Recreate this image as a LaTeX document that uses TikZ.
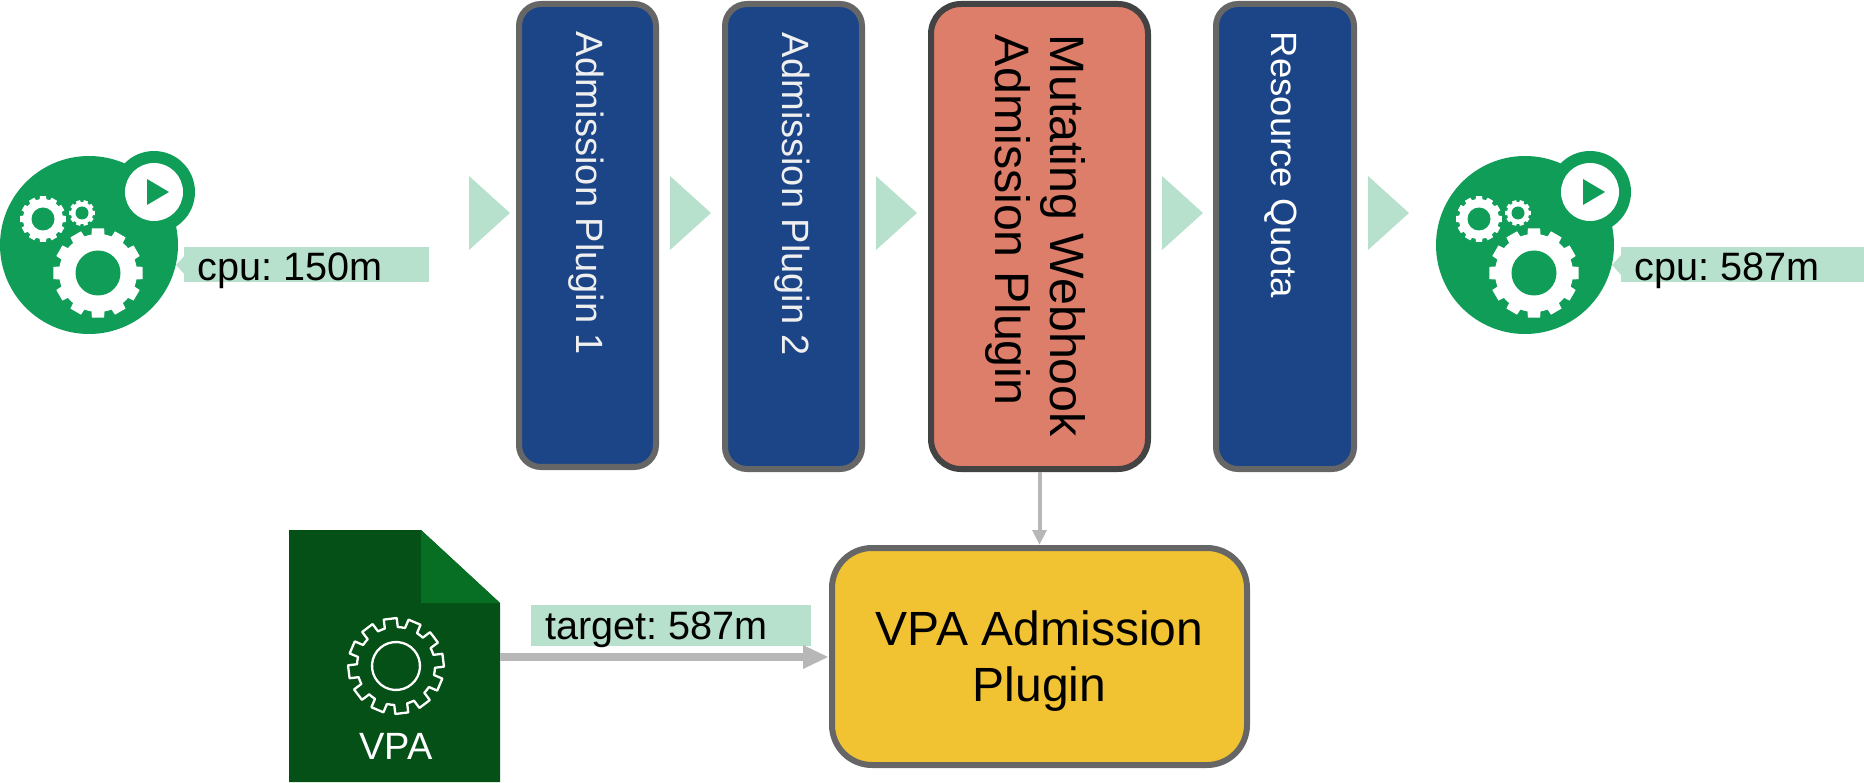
\documentclass[tikz,border=0pt]{standalone}
\usepackage{fontspec}
\setmainfont{Liberation Sans}
\definecolor{bluebox}{HTML}{1C4587}
\definecolor{salmonbox}{HTML}{DD7E6B}
\definecolor{yellowbox}{HTML}{F1C232}
\definecolor{edgegray}{HTML}{666666}
\definecolor{edgedark}{HTML}{434343}
\definecolor{podgreen}{HTML}{0F9D58}
\definecolor{palegreen}{HTML}{B7E1CD}
\definecolor{arrowgray}{HTML}{B7B7B7}
\definecolor{docdark}{HTML}{055016}
\definecolor{docfold}{HTML}{076F24}
\definecolor{softwhite}{HTML}{EFEFEF}
\newcommand{\px}[2]{\fontsize{#1}{#2}\selectfont\frenchspacing}
\tikzset{
  x=1pt,y=-1pt,
  plugbox/.style={rectangle,rounded corners=22pt,line width=6pt,draw=edgegray,fill=bluebox,text=softwhite,
    rotate=-90,minimum width=463pt,minimum height=137pt,inner sep=0pt,align=flush left,text width=407pt,
    text height=23pt,text depth=0pt,font=\px{38}{38}},
  flowtip/.style={fill=palegreen,draw=none},
  tag/.style={fill=palegreen,draw=none,inner sep=0pt,anchor=north west,text=black,align=flush left,font=\px{39.6}{40}},
}
% gear polygon centred at current scope origin: teeth, root radius, tip radius
\newcommand{\gearshape}[3]{%
  ({(-0.5)*360/#1}:#2) \foreach \i in {1,...,#1}{
    -- ({(\i-1.5+0.18)*360/#1}:#2) -- ({(\i-1.5+0.24)*360/#1}:#3) -- ({(\i-1.5+0.76)*360/#1}:#3) -- ({(\i-1.5+0.82)*360/#1}:#2) -- ({(\i-0.5)*360/#1}:#2)
  } -- cycle}
\newcommand{\podicon}[2]{%
  \begin{scope}[shift={(#1,#2)}]
    \fill[podgreen] (89,245) circle[radius=89];
    \fill[podgreen] (154,192) circle[radius=41];
    \fill[white] (154,192) circle[radius=29];
    \fill[podgreen] (147,179) -- (169,192) -- (147,205) -- cycle;
    \begin{scope}[shift={(98,273)}]
      \fill[white] \gearshape{12}{39}{45};
      \fill[podgreen] (0,0) circle[radius=22.5];
    \end{scope}
    \begin{scope}[shift={(43,219)}]
      \fill[white] \gearshape{12}{20}{23};
      \fill[podgreen] (0,0) circle[radius=11.5];
    \end{scope}
    \begin{scope}[shift={(82,213)}]
      \fill[white] \gearshape{10}{11}{13};
      \fill[podgreen] (0,0) circle[radius=6.5];
    \end{scope}
  \end{scope}}
\begin{document}
\begin{tikzpicture}
\useasboundingbox (0,0) rectangle (1864,783);

% boxes
\node[plugbox] (p1) at (587.5,235.5) {Admission Plugin 1};
\node[plugbox,minimum width=465pt] (p2) at (793.5,236.5) {Admission Plugin 2};
\node[plugbox,minimum width=465pt,minimum height=217pt,fill=salmonbox,draw=edgedark,text=black,
  rounded corners=30pt,text width=403pt,text height=,text depth=,font=\px{48.3}{55}] (mw) at (1039.5,236.5)
  {\rule{0pt}{43pt}Mutating Webhook\\Admission Plugin};
\node[plugbox,minimum width=465pt,minimum height=138pt,text=white,text width=409pt,font=\px{36.5}{37},text height=28pt] (rq) at (1285,236.5) {Resource Quota};
\node[rectangle,rounded corners=40pt,line width=6pt,draw=edgegray,fill=yellowbox,text=black,
  minimum width=415pt,minimum height=217pt,inner sep=0pt,align=flush center,font=\px{48}{56}] (vp) at (1039.5,656.5)
  {\rule{0pt}{43pt}VPA Admission\\Plugin};

% flow triangles
\coordinate (t1) at (469,213);
\coordinate (t2) at (670,213);
\coordinate (t3) at (876,213);
\coordinate (t4) at (1162,213);
\coordinate (t5) at (1368,213);
\foreach \t in {t1,t2,t3,t4,t5}{
  \fill[flowtip] (\t) ++(0,-37) -- ++(41,37) -- ++(-41,37) -- cycle;
}

% pod icons
\podicon{0}{0}
\podicon{1436}{0}

% cpu tags
\fill[flowtip] (176,265) -- (186,254) -- (186,276) -- cycle;
\node[tag,minimum width=245pt,text width=245pt,text height=33pt,text depth=2pt] (c1) at (184,247) {\hspace*{13pt}cpu: 150m};
\fill[flowtip] (1612,265) -- (1622,254) -- (1622,276) -- cycle;
\node[tag,minimum width=243pt,text width=243pt,text height=33pt,text depth=2pt] (c2) at (1621,247) {\hspace*{13pt}cpu: 587m};

% VPA document
\path[fill=docdark] (289,530) -- (421,530) -- (500,603) -- (500,782) -- (289,782) -- cycle;
\fill[docfold] (421,530) -- (500,603) -- (421,603) -- cycle;
\begin{scope}[shift={(396,666)},rotate=7]
  \draw[white,line width=2.3pt,line join=round] \gearshape{12}{39}{48};
  \draw[white,line width=2.3pt] (0,0) circle[radius=24];
\end{scope}
\node[text=white,inner sep=0pt,anchor=base,font=\px{38}{38}] (vt) at (396,759) {VPA};

% target tag
\node[tag,minimum width=280pt,text width=280pt,text height=34pt,text depth=7pt] (tg) at (531,605)
  {\hspace*{14pt}target: 587m};

% connectors
\coordinate (docr) at (500,657);
\draw[arrowgray,line width=8pt] (docr) -- (805,657);
\fill[arrowgray] (803,645) -- (828,657) -- (803,669) -- cycle;
\draw[arrowgray,line width=4pt] (mw.east) -- (1039.5,531);
\fill[arrowgray] (1032,530) -- (1047,530) -- (1039.5,544.5) -- cycle;
\end{tikzpicture}
\end{document}
